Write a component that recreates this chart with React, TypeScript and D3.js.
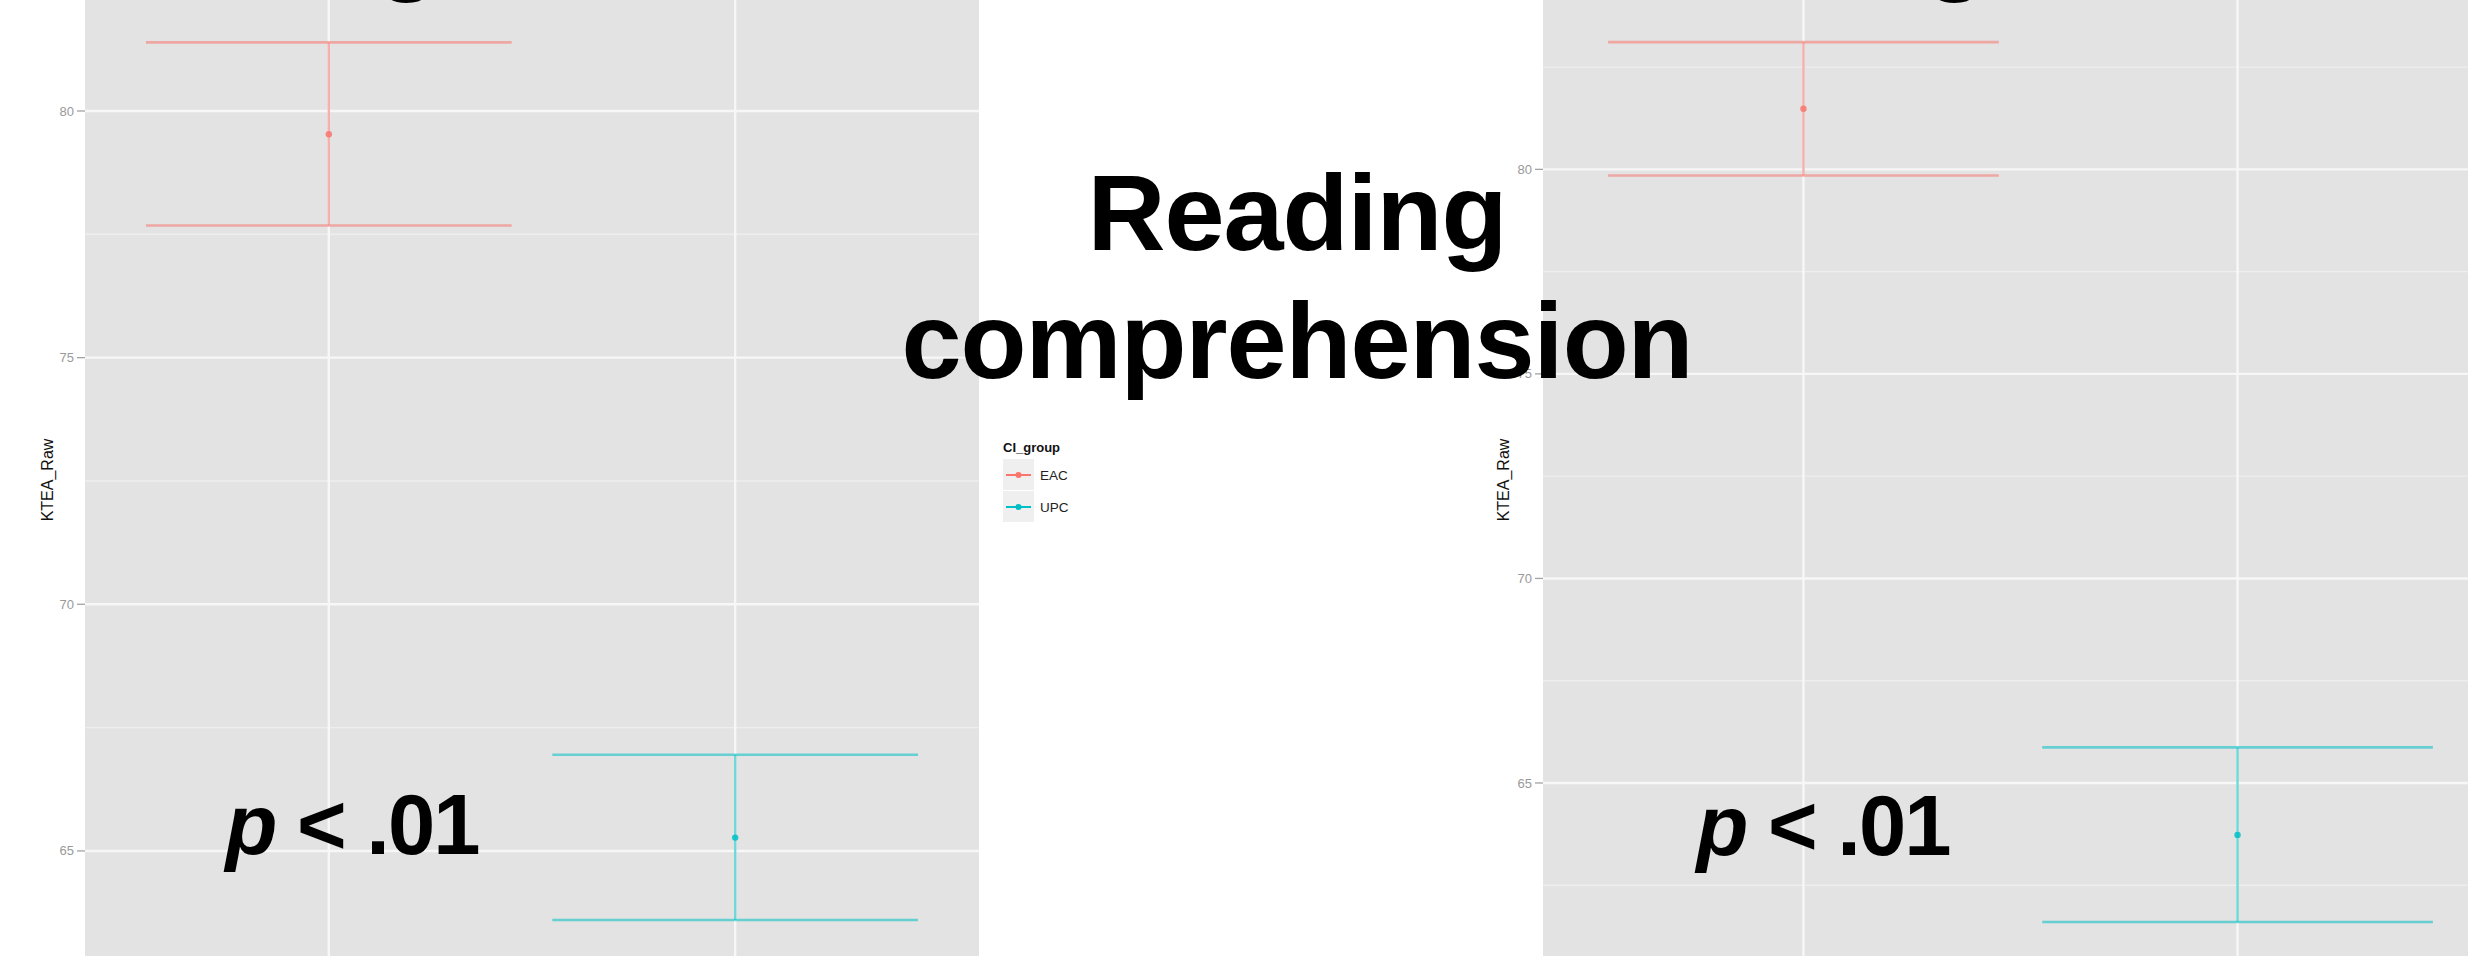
import React from "react";
import * as d3 from "d3";

// Group categories and their colours (ggplot2 default hues)
const groups = ["EAC", "UPC"];
const groupColors = ["#F8766D", "#00BFC4"];

// Left plot: KTEA raw score, mean with confidence interval
const leftMean = [79.53, 65.27];
const leftLower = [77.68, 63.6];
const leftUpper = [81.39, 66.95];
const leftDomain = [62.87, 82.25];

// Right plot: KTEA raw score, mean with confidence interval
const rightMean = [81.48, 63.73];
const rightLower = [79.85, 61.6];
const rightUpper = [83.11, 65.87];
const rightDomain = [60.77, 84.14];

const yTicks = [65, 70, 75, 80];
const yMinorTicks = [62.5, 67.5, 72.5, 77.5, 82.5];

const yTitle = "KTEA_Raw";
const legendTitle = "CI_group";
const pLabel = ".01";

const W = 2468;
const H = 956;
const FONT = "'Liberation Sans', Arial, Helvetica, sans-serif";

type PanelProps = {
  left: number;
  right: number;
  domain: number[];
  mean: number[];
  lower: number[];
  upper: number[];
  titleX: number;
};

function Panel({ left, right, domain, mean, lower, upper, titleX }: PanelProps) {
  const x = d3.scalePoint<string>().domain(groups).range([left, right]).padding(0.6);
  const y = d3.scaleLinear().domain(domain).range([H, 0]);
  const halfW = (x.step() * 0.9) / 2;
  const clipId = `clip-${Math.round(left)}`;
  return (
    <g>
      <defs>
        <clipPath id={clipId}>
          <rect x={left} y={0} width={right - left} height={H} />
        </clipPath>
      </defs>
      <rect x={left} y={0} width={right - left} height={H} fill="#E3E3E3" />
      <g clipPath={`url(#${clipId})`}>
        {yMinorTicks.map((t) => (
          <line key={`m${t}`} x1={left} x2={right} y1={y(t)} y2={y(t)} stroke="#EEEEEE" strokeWidth={1.4} />
        ))}
        {yTicks.map((t) => (
          <line key={`g${t}`} x1={left} x2={right} y1={y(t)} y2={y(t)} stroke="#F7F7F7" strokeWidth={2.4} />
        ))}
        {groups.map((g) => (
          <line key={`v${g}`} x1={x(g)} x2={x(g)} y1={0} y2={H} stroke="#F7F7F7" strokeWidth={2.4} />
        ))}
        {groups.map((g, i) => {
          const cx = x(g) as number;
          return (
            <g key={g}>
              <line x1={cx - halfW} x2={cx + halfW} y1={y(upper[i])} y2={y(upper[i])} stroke={groupColors[i]} strokeOpacity={0.55} strokeWidth={2.6} />
              <line x1={cx - halfW} x2={cx + halfW} y1={y(lower[i])} y2={y(lower[i])} stroke={groupColors[i]} strokeOpacity={0.55} strokeWidth={2.6} />
              <line x1={cx} x2={cx} y1={y(upper[i])} y2={y(lower[i])} stroke={groupColors[i]} strokeOpacity={0.55} strokeWidth={2.4} />
              <circle cx={cx} cy={y(mean[i])} r={3.2} fill={groupColors[i]} fillOpacity={0.85} />
            </g>
          );
        })}
      </g>
      {yTicks.map((t) => (
        <g key={`t${t}`}>
          <line x1={left - 8} x2={left} y1={y(t)} y2={y(t)} stroke="#A3A3A3" strokeWidth={1.3} />
          <text x={left - 11} y={y(t)} dy="0.35em" textAnchor="end" fontFamily={FONT} fontSize={13} fill="#999999">
            {t}
          </text>
        </g>
      ))}
      <text
        transform={`translate(${titleX},${H / 2 + 2}) rotate(-90)`}
        textAnchor="middle"
        dy="0.35em"
        fontFamily={FONT}
        fontSize={16}
        fill="#111"
      >
        {yTitle}
      </text>
    </g>
  );
}

function Legend({ x, y }: { x: number; y: number }) {
  const key = 32;
  return (
    <g>
      <text x={x} y={y} fontFamily={FONT} fontSize={13} fontWeight="bold" fill="#111">
        {legendTitle}
      </text>
      {groups.map((g, i) => {
        const ky = y + 7 + i * key;
        return (
          <g key={g}>
            <rect x={x} y={ky} width={key - 1} height={key - 1} fill="#EFEFEF" />
            <line x1={x + 3} x2={x + key - 4} y1={ky + key / 2} y2={ky + key / 2} stroke={groupColors[i]} strokeWidth={2} />
            <circle cx={x + key / 2 - 0.5} cy={ky + key / 2} r={3} fill={groupColors[i]} />
            <text x={x + key + 5} y={ky + key / 2} dy="0.36em" fontFamily={FONT} fontSize={13.5} fill="#222">
              {g}
            </text>
          </g>
        );
      })}
    </g>
  );
}

function PValue({ cx, baseline }: { cx: number; baseline: number }) {
  return (
    <text x={cx} y={baseline} textAnchor="middle" fontFamily={FONT} fontWeight="bold" fontSize={85} letterSpacing={-2} fill="#000">
      <tspan fontStyle="italic">p</tspan>
      <tspan>{` < ${pLabel}`}</tspan>
    </text>
  );
}

export default function App() {
  return (
    <div style={{ position: "absolute", left: 0, top: 0 }}>
      <svg width={W} height={H} viewBox={`0 0 ${W} ${H}`} style={{ display: "block", background: "#fff" }}>
        <Panel left={85} right={979} domain={leftDomain} mean={leftMean} lower={leftLower} upper={leftUpper} titleX={47} />
        <Legend x={1003} y={452} />
        <Panel left={1543} right={2498} domain={rightDomain} mean={rightMean} lower={rightLower} upper={rightUpper} titleX={1503} />

        {/* descenders of the headings above the visible area */}
        <text x={408} y={-19} textAnchor="middle" fontFamily={FONT} fontWeight="bold" fontSize={108} fill="#000">g</text>
        <text x={1956} y={-19} textAnchor="middle" fontFamily={FONT} fontWeight="bold" fontSize={108} fill="#000">g</text>

        <text x={1297} textAnchor="middle" fontFamily={FONT} fontWeight="bold" fontSize={108} letterSpacing={-1} fill="#000">
          <tspan x={1297} y={250}>Reading</tspan>
          <tspan x={1297} y={378}>comprehension</tspan>
        </text>

        <PValue cx={352} baseline={854} />
        <PValue cx={1823} baseline={855} />
      </svg>
    </div>
  );
}
